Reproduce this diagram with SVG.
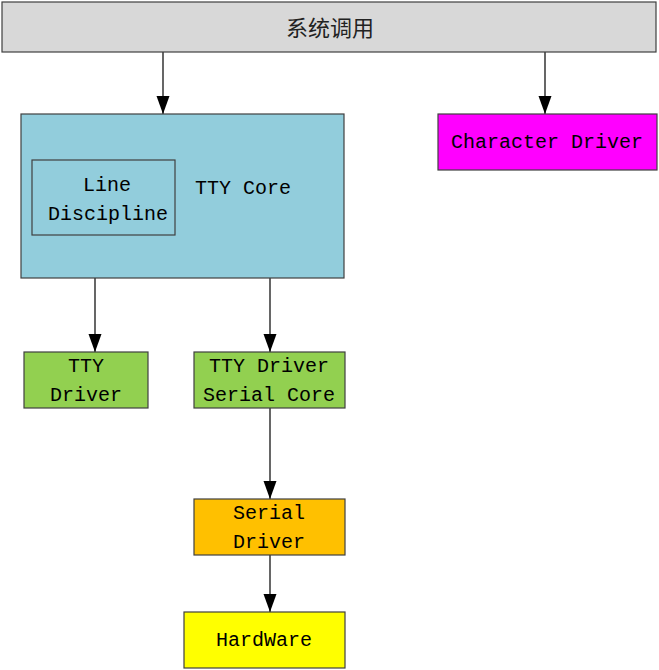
<svg xmlns="http://www.w3.org/2000/svg" width="659" height="670" viewBox="0 0 659 670">
<style>
.box{stroke:#404040;stroke-width:1.2}
.t{font-family:"Liberation Mono","Noto Sans CJK SC",monospace;font-size:20px;fill:#000;text-anchor:middle;dominant-baseline:central}
.cjk{font-family:"Noto Sans CJK SC",sans-serif;font-size:22px;fill:#222;text-anchor:middle;dominant-baseline:central}
.c{stroke:#000;stroke-width:1.2;fill:none;marker-end:url(#ah)}
</style>
<defs>
<marker id="ah" markerUnits="userSpaceOnUse" markerWidth="18" markerHeight="14" refX="18" refY="6.5" orient="auto">
<path d="M0,0 L18,6.5 L0,13 z" fill="#000"/>
</marker>
</defs>
<rect width="659" height="670" fill="#fff"/>
<g id="connectors">
<line class="c" x1="163" y1="52" x2="163" y2="114"/>
<line class="c" x1="545" y1="52" x2="545" y2="114"/>
<line class="c" x1="95" y1="278" x2="95" y2="352"/>
<line class="c" x1="270" y1="278" x2="270" y2="352"/>
<line class="c" x1="270" y1="408" x2="270" y2="499"/>
<line class="c" x1="270" y1="555" x2="270" y2="612"/>
</g>
<g id="syscall">
<rect class="box" x="2" y="2" width="654" height="50" fill="#d8d8d8"/>
<text class="cjk" x="330" y="26">系统调用</text>
</g>
<g id="ttycore">
<rect class="box" x="21" y="114" width="323" height="164" fill="#92cddc"/>
<text class="t" x="243" y="188">TTY Core</text>
</g>
<g id="linediscipline">
<rect class="box" x="32" y="160" width="143" height="75" fill="#92cddc"/>
<text class="t" x="107" y="185">Line</text>
<text class="t" x="108" y="214">Discipline</text>
</g>
<g id="chardriver">
<rect class="box" x="438" y="114" width="219" height="56" fill="#ff00ff"/>
<text class="t" x="547" y="142">Character Driver</text>
</g>
<g id="ttydriver">
<rect class="box" x="24" y="352" width="124" height="56" fill="#92d050"/>
<text class="t" x="86" y="366">TTY</text>
<text class="t" x="86" y="395">Driver</text>
</g>
<g id="serialcore">
<rect class="box" x="194" y="352" width="151" height="56" fill="#92d050"/>
<text class="t" x="269" y="366">TTY Driver</text>
<text class="t" x="269" y="395">Serial Core</text>
</g>
<g id="serialdriver">
<rect class="box" x="194" y="499" width="151" height="56" fill="#ffc000"/>
<text class="t" x="269" y="513">Serial</text>
<text class="t" x="269" y="542">Driver</text>
</g>
<g id="hardware">
<rect class="box" x="184" y="612" width="161" height="56" fill="#ffff00"/>
<text class="t" x="264" y="640">HardWare</text>
</g>
</svg>
